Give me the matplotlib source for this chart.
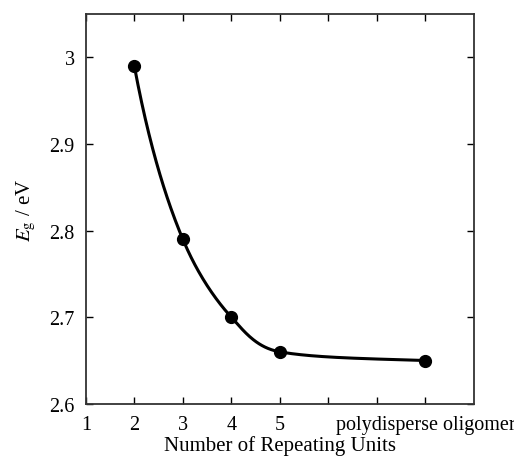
import numpy as np
import matplotlib
matplotlib.use("Agg")
import matplotlib.pyplot as plt

# data
units = [2, 3, 4, 5, 8]
eg = [2.99, 2.79, 2.70, 2.66, 2.65]
tick_pos = [1, 2, 3, 4, 5, 6, 7, 8]
tick_labels = ["1", "2", "3", "4", "5", "", "", "polydisperse oligomer"]
yticks = [2.6, 2.7, 2.8, 2.9, 3.0]
ytick_labels = ["2.6", "2.7", "2.8", "2.9", "3"]


def pchip(x, y, xs):
    # monotone cubic hermite (Fritsch-Carlson)
    x = np.asarray(x, float)
    y = np.asarray(y, float)
    h = np.diff(x)
    d = np.diff(y) / h
    m = np.zeros_like(y)
    m[0], m[-1] = d[0], d[-1]
    for k in range(1, len(x) - 1):
        if d[k - 1] * d[k] > 0:
            w1 = 2 * h[k] + h[k - 1]
            w2 = h[k] + 2 * h[k - 1]
            m[k] = (w1 + w2) / (w1 / d[k - 1] + w2 / d[k])
    out = np.empty_like(xs)
    for i, xv in enumerate(xs):
        k = min(np.searchsorted(x, xv, side="right") - 1, len(x) - 2)
        t = (xv - x[k]) / h[k]
        h00 = 2 * t**3 - 3 * t**2 + 1
        h10 = t**3 - 2 * t**2 + t
        h01 = -2 * t**3 + 3 * t**2
        h11 = t**3 - t**2
        out[i] = h00 * y[k] + h10 * h[k] * m[k] + h01 * y[k + 1] + h11 * h[k] * m[k + 1]
    return out


plt.rcParams["font.family"] = "Liberation Serif"
plt.rcParams["mathtext.fontset"] = "stix"

fig = plt.figure(figsize=(5.14, 4.60), dpi=100)
ax = fig.add_axes([0.167, 0.12, 0.755, 0.847])

# smooth guide line: interpolate in log(E - offset) so it decays like the original
offset = 2.646
xs = np.linspace(units[0], units[-1], 400)
ys = offset + np.exp(pchip(units, np.log(np.array(eg) - offset), xs))
ax.plot(xs, ys, color="black", lw=2.2)
ax.plot(units, eg, "o", color="black", markersize=8.5)

ax.set_xlim(1, 9)
ax.set_ylim(2.6, 3.05)
ax.set_xticks(tick_pos)
ax.set_xticklabels(tick_labels)
ax.set_yticks(yticks)
ax.set_yticklabels(ytick_labels)
ax.tick_params(direction="in", top=True, right=True, length=5, width=1,
               labelsize=14.5)
ax.tick_params(axis="x", pad=8)
ax.tick_params(axis="y", pad=8)

for s in ax.spines.values():
    s.set_linewidth(1.3)
    s.set_color("#333333")

ax.set_xlabel("Number of Repeating Units", fontsize=15, labelpad=1)
ax.set_ylabel(r"$E_\mathrm{g}$ / eV", fontsize=15, labelpad=8)

fig.savefig("out.png", dpi=100)
